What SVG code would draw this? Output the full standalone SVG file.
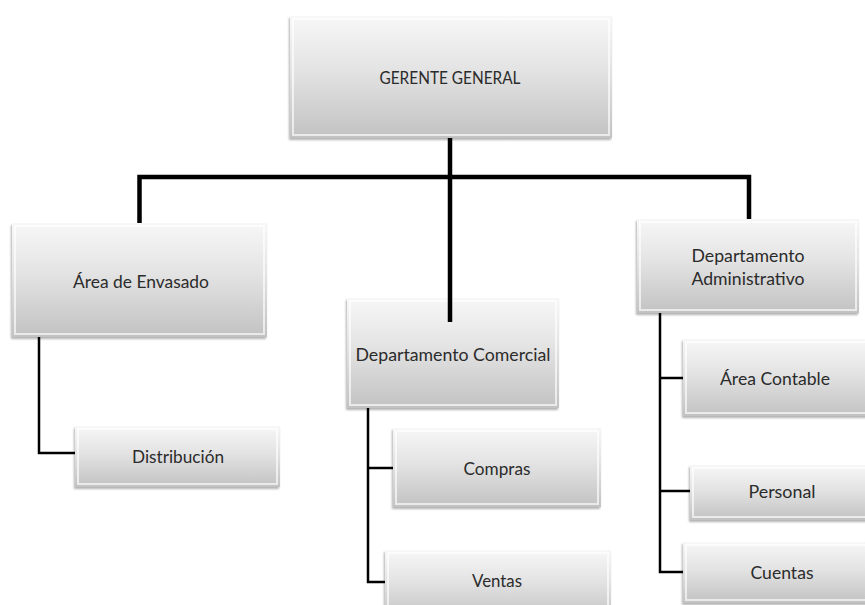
<svg xmlns="http://www.w3.org/2000/svg" width="865" height="605" viewBox="0 0 865 605">
  <defs>
    <linearGradient id="boxFill" x1="0" y1="0" x2="0" y2="1">
      <stop offset="0" stop-color="#f7f7f7"/>
      <stop offset="0.45" stop-color="#e3e3e3"/>
      <stop offset="1" stop-color="#c2c2c2"/>
    </linearGradient>
    <filter id="shadow" x="-5%" y="-5%" width="110%" height="115%">
      <feDropShadow dx="-1" dy="2" stdDeviation="1.2" flood-color="#000" flood-opacity="0.3"/>
    </filter>
  </defs>
  <style>
    .box { fill: url(#boxFill); filter: url(#shadow); }
    .bevel { fill: none; stroke: #ffffff; stroke-opacity: 0.65; stroke-width: 2; }
    .label { font-family: Lato, "Open Sans", "Liberation Sans", sans-serif; font-size: 17px; fill: #2b2b2b; text-anchor: middle; dominant-baseline: central; }
    .main { fill: none; stroke: #000; stroke-width: 4.5; stroke-linejoin: miter; }
    .sub { fill: none; stroke: #000; stroke-width: 2.5; stroke-linejoin: miter; }
  </style>
  <rect width="865" height="605" fill="#ffffff"/>

  <g id="gerente-general">
    <rect class="box" x="290" y="16" width="322" height="122"/>
    <rect class="bevel" x="293" y="19" width="316" height="116"/>
    <text class="label" x="450" y="77" textLength="141" lengthAdjust="spacingAndGlyphs">GERENTE GENERAL</text>
  </g>

  <g id="area-envasado">
    <rect class="box" x="12" y="223" width="255" height="114"/>
    <rect class="bevel" x="15" y="226" width="249" height="108"/>
    <text class="label" x="141" y="281" textLength="136" lengthAdjust="spacingAndGlyphs">Área de Envasado</text>
  </g>

  <g id="distribucion">
    <rect class="box" x="75" y="426" width="205" height="61"/>
    <rect class="bevel" x="78" y="429" width="199" height="55"/>
    <text class="label" x="178" y="456" textLength="92" lengthAdjust="spacingAndGlyphs">Distribución</text>
  </g>

  <g id="departamento-comercial">
    <rect class="box" x="347" y="298" width="212" height="110"/>
    <rect class="bevel" x="350" y="301" width="206" height="104"/>
    <text class="label" x="453" y="354" textLength="195" lengthAdjust="spacingAndGlyphs">Departamento Comercial</text>
  </g>

  <g id="compras">
    <rect class="box" x="393" y="428" width="208" height="79"/>
    <rect class="bevel" x="396" y="431" width="202" height="73"/>
    <text class="label" x="497" y="468" textLength="67" lengthAdjust="spacingAndGlyphs">Compras</text>
  </g>

  <g id="ventas">
    <rect class="box" x="385" y="550" width="226" height="70"/>
    <rect class="bevel" x="388" y="553" width="220" height="64"/>
    <text class="label" x="497" y="580" textLength="50" lengthAdjust="spacingAndGlyphs">Ventas</text>
  </g>

  <g id="departamento-administrativo">
    <rect class="box" x="637" y="219" width="222" height="94"/>
    <rect class="bevel" x="640" y="222" width="216" height="88"/>
    <text class="label" x="748" y="255" textLength="113" lengthAdjust="spacingAndGlyphs">Departamento</text>
    <text class="label" x="748" y="278" textLength="113" lengthAdjust="spacingAndGlyphs">Administrativo</text>
  </g>

  <g id="area-contable">
    <rect class="box" x="683" y="339" width="200" height="77"/>
    <rect class="bevel" x="686" y="342" width="194" height="71"/>
    <text class="label" x="775" y="378" textLength="110" lengthAdjust="spacingAndGlyphs">Área Contable</text>
  </g>

  <g id="personal">
    <rect class="box" x="690" y="465" width="200" height="55"/>
    <rect class="bevel" x="693" y="468" width="194" height="49"/>
    <text class="label" x="782" y="491" textLength="67" lengthAdjust="spacingAndGlyphs">Personal</text>
  </g>

  <g id="cuentas">
    <rect class="box" x="683" y="542" width="200" height="61"/>
    <rect class="bevel" x="686" y="545" width="194" height="55"/>
    <text class="label" x="782" y="572" textLength="63" lengthAdjust="spacingAndGlyphs">Cuentas</text>
  </g>

  <g id="connectors">
    <!-- top level: trunk, crossbar and three drops -->
    <path class="main" d="M450 138 V177"/>
    <path class="main" d="M139.5 223 V177 H749 V219"/>
    <path class="main" d="M450 177 V322"/>
    <!-- Área de Envasado branch -->
    <path class="sub" d="M39 337 V453 H75"/>
    <!-- Departamento Comercial branch -->
    <path class="sub" d="M368 408 V582 H385"/>
    <path class="sub" d="M368 468 H393"/>
    <!-- Departamento Administrativo branch -->
    <path class="sub" d="M660 313 V572 H683"/>
    <path class="sub" d="M660 378 H683"/>
    <path class="sub" d="M660 491 H690"/>
  </g>
</svg>
